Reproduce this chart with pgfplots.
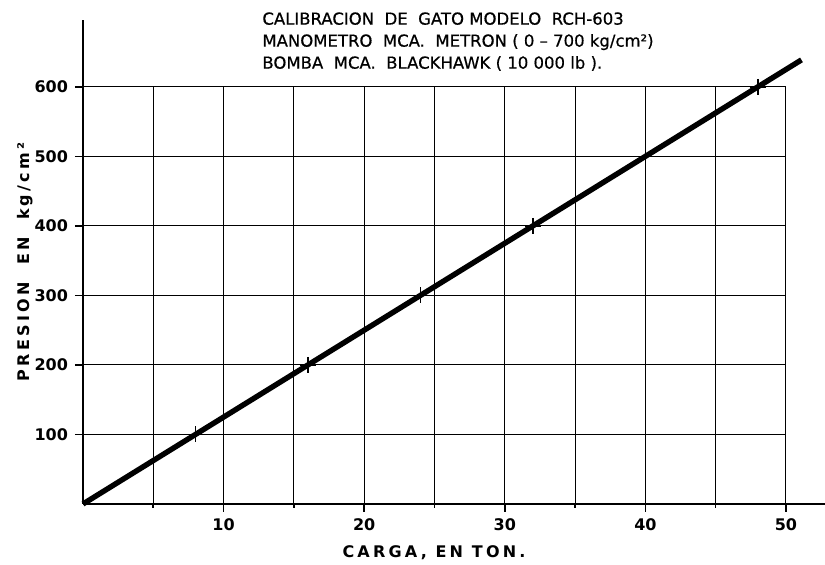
\documentclass[border=0pt]{standalone}
\usepackage{pgfplots}
\pgfplotsset{compat=1.18}
\usepackage{fontspec}
\setmainfont{DejaVu Sans}

\begin{document}
\begin{tikzpicture}
% page frame, in pt (1 px of the reference = 0.5pt)
\path[use as bounding box] (-41.5pt,-30.5pt) rectangle (371pt,252pt);
\begin{axis}[
  at={(0,0)}, anchor=south west,
  scale only axis, width=351.5pt, height=208.5pt,
  xmin=0, xmax=50, ymin=0, ymax=600,
  clip=false,
  xtick={10,20,30,40,50},
  minor xtick={5,15,25,35,45},
  ytick={100,200,...,600},
  grid=both,
  grid style={black, line width=0.5pt},
  minor grid style={black, line width=0.5pt},
  axis line style={black, line width=0.5pt},
  xtick pos=left, ytick pos=left,
  tick align=outside,
  major tick length=4pt, minor tick length=2pt,
  tick style={black, line width=0.8pt},
  ticklabel style={font=\bfseries\fontsize{8}{9}\selectfont},
  /pgf/number format/assume math mode=true,
]
% axes run past the grid
\draw[line width=1pt] (axis cs:0,0) -- (axis cs:0,697);
\draw[line width=1pt] (axis cs:0,0) -- (axis cs:52.8,0);

\addplot[black, line width=2.7pt] coordinates {(0,0) (51.1,639)};
\addplot[black, only marks, mark=+, mark size=4pt, mark options={line width=0.7pt}]
  coordinates {(8,100) (16,200) (24,300) (32,400) (40,500) (48,600)};
\end{axis}

\node[anchor=north west, inner sep=0, align=left,
      font=\fontsize{8.25}{11}\selectfont\addfontfeature{FakeBold=0.6}]
  at (89.5pt,246pt)
  {CALIBRACION~~DE~~GATO MODELO~~RCH-603\\
   MANOMETRO~~MCA.~~METRON ( 0 -- 700 kg/cm²)\\
   BOMBA~~MCA.~~BLACKHAWK ( 10 000 lb ).};

\node[rotate=90, inner sep=0, font=\bfseries\fontsize{8}{9}\selectfont\addfontfeature{LetterSpace=20}]
  at (-29pt,121pt) {PRESION~~EN~~kg/cm²};

\node[inner sep=0, font=\bfseries\fontsize{8}{9}\selectfont\addfontfeature{LetterSpace=20}]
  at (175.5pt,-24.5pt) {CARGA, EN TON.};
\end{tikzpicture}
\end{document}
